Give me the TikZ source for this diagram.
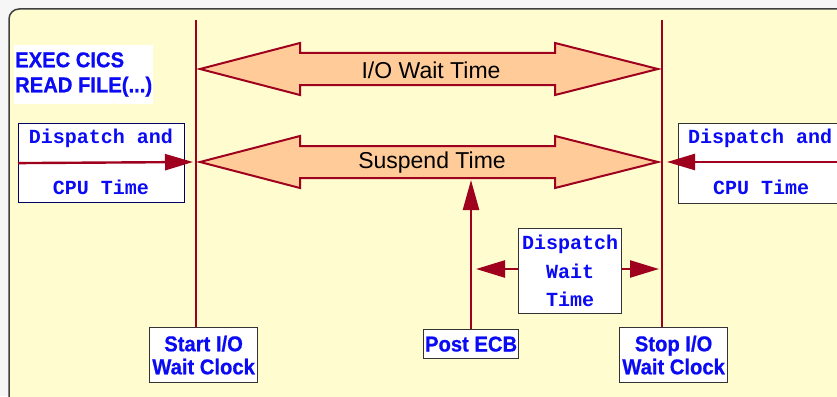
\documentclass[tikz,border=0pt]{standalone}
\usepackage{fontspec}
\setmainfont{Liberation Sans}[BoldFeatures={FakeBold=0.7,FakeStretch=0.94}]
\newfontfamily\monob{Liberation Mono}
\usetikzlibrary{arrows.meta}
\definecolor{panel}{RGB}{255,253,208}
\definecolor{dred}{RGB}{158,0,30}
\definecolor{peach}{RGB}{255,204,153}
\definecolor{tblue}{RGB}{10,10,245}
\definecolor{bgout}{RGB}{246,246,246}
\tikzset{
  vline/.style={draw=dred, line width=2pt},
  dblarrow/.style={draw=dred, fill=peach, line width=2pt, line join=miter},
  redarrow/.style={draw=dred, line width=2.4pt, -{Triangle[length=28pt,width=16pt]}},
  whitebox/.style={draw=black!80, fill=white, line width=1.2pt, inner sep=0pt},
  sanslabel/.style={text=tblue, font=\bfseries\fontsize{21.5}{24}\selectfont, inner sep=0pt},
  monolabel/.style={text=tblue, font=\monob\bfseries\fontsize{20}{28.5}\selectfont, inner sep=0pt},
  arrowlabel/.style={text=black, font=\fontsize{23}{26}\selectfont, inner sep=0pt}
}
\begin{document}
\begin{tikzpicture}[x=1pt,y=-1pt]
\useasboundingbox (0,0) rectangle (837,396);
\fill[bgout] (0,0) rectangle (837,396);
% panel
\draw[fill=panel, draw=black!75, line width=1.5pt, rounded corners=10pt] (9,9) -- (850,9) -- (850,410) -- (9,410) -- cycle;

% boxes at the bottom
\node[whitebox, minimum width=108pt, minimum height=55pt, anchor=north west] (start) at (149,327) {};
\node[sanslabel, align=center] (starttxt) at (start.center) {Start I/O\\[-1pt]Wait Clock};
\node[whitebox, minimum width=108pt, minimum height=55pt, anchor=north west] (stop) at (619,327) {};
\node[sanslabel, align=center] (stoptxt) at (stop.center) {Stop I/O\\[-1pt]Wait Clock};
\node[whitebox, minimum width=95pt, minimum height=29pt, anchor=north west] (post) at (423,329) {};
\node[sanslabel] (posttxt) at (post.center) {Post ECB};

% vertical lines
\coordinate (ltop) at (196,20);
\coordinate (rtop) at (662,20);
\draw[vline] (ltop) -- (start.north -| ltop);
\draw[vline] (rtop) -- (stop.north -| rtop);

% EXEC CICS label
\node[fill=white, minimum width=139pt, minimum height=59pt, anchor=north west, inner sep=0pt] (exec) at (14,45) {};
\node[sanslabel, align=left, anchor=west] (exectxt) at (15,74.5) {EXEC CICS\\[1pt]READ FILE(...)};

% I/O wait double arrow
\draw[dblarrow] (200,69) -- (300,43) -- (300,53) -- (555,53) -- (555,43) -- (658,69) -- (555,95) -- (555,85) -- (300,85) -- (300,95) -- cycle;
\node[arrowlabel] (iowait) at (431,70) {I/O Wait Time};
% Suspend double arrow
\draw[dblarrow] (200,162) -- (300,136) -- (300,146) -- (555,146) -- (555,136) -- (658,162) -- (555,188) -- (555,178) -- (300,178) -- (300,188) -- cycle;
\node[arrowlabel] (suspend) at (432,163) {Suspend Time};
\coordinate (susbottom) at (471,180);

% left dispatch box
\node[draw=black!60!blue, fill=white, line width=1.2pt, minimum width=166pt, minimum height=79pt, anchor=north west, inner sep=0pt] (dl) at (18,123) {};
\node[monolabel] (dltop) at (101,138) {Dispatch and};
\node[monolabel] (dlbot) at (101,187) {CPU Time};
\coordinate (dltip) at (193,162);
\draw[redarrow] (dl.west) -- (dltip);

% right dispatch box
\node[whitebox, minimum width=170pt, minimum height=80pt, anchor=north west] (dr) at (678,123) {};
\node[monolabel, anchor=west] (drtop) at (688,138) {Dispatch and};
\node[monolabel, anchor=west] (drbot) at (713,187) {CPU Time};
\coordinate (drstart) at (837,162);
\coordinate (drtip) at (667,162);
\draw[redarrow] (drstart) -- (drtip);

% Post ECB arrow
\draw[redarrow, -{Triangle[length=30pt,width=16pt]}] (post.north -| susbottom) -- (susbottom);

% dispatch wait box
\node[whitebox, minimum width=103pt, minimum height=85pt, anchor=north west] (dw) at (518,228) {};
\node[monolabel, align=center] (dwtxt) at (dw.center) {Dispatch\\Wait\\Time};
\coordinate (dwl) at (476,269);
\coordinate (dwr) at (659,269);
\draw[redarrow, -{Triangle[length=29pt,width=17pt]}] (dw.west |- dwl) -- (dwl);
\draw[redarrow, -{Triangle[length=29pt,width=17pt]}] (dw.east |- dwr) -- (dwr);
\end{tikzpicture}
\end{document}
